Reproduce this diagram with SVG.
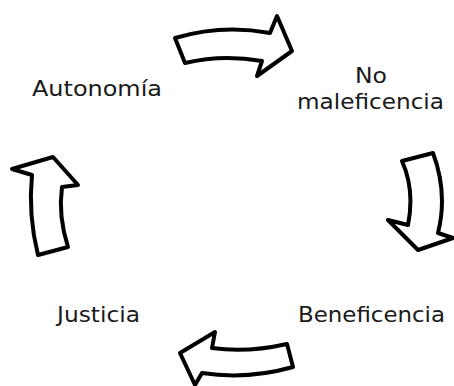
<svg xmlns="http://www.w3.org/2000/svg" width="454" height="386" viewBox="0 0 454 386">
  <style>
    .arrow { fill: #ffffff; stroke: #000000; stroke-width: 4; stroke-linejoin: round; }
    .label { font-family: "DejaVu Sans", Verdana, sans-serif; font-size: 21px; fill: #1a1a1a; }
  </style>
  <rect width="454" height="386" fill="#ffffff"/>

  <!-- principle labels -->
  <g id="autonomia">
    <text class="label" x="32" y="96" textLength="130" lengthAdjust="spacingAndGlyphs">Autonomía</text>
  </g>
  <g id="no-maleficencia">
    <text class="label" x="355" y="83" textLength="32" lengthAdjust="spacingAndGlyphs">No</text>
    <text class="label" x="297" y="109" textLength="147" lengthAdjust="spacingAndGlyphs">maleficencia</text>
  </g>
  <g id="beneficencia">
    <text class="label" x="298" y="322" textLength="147" lengthAdjust="spacingAndGlyphs">Beneficencia</text>
  </g>
  <g id="justicia">
    <text class="label" x="57" y="322" textLength="83" lengthAdjust="spacingAndGlyphs">Justicia</text>
  </g>

  <!-- curved block arrows forming the cycle -->
  <g id="connectors">
    <path class="arrow" d="M175,38 Q222,24 270,33 L277,16 L292,51 L257,76 L262,61 Q222,54 185,63 Z"/>
    <path class="arrow" d="M402,161 L433,153 Q448,193 438,233 L453,238 L418,250 L388,220 L408,225 Q415,190 402,161 Z"/>
    <path class="arrow" d="M287,344 L293,367 Q247,380 202,373 L195,385 L180,353 L215,332 L212,348 Q247,353 287,344 Z"/>
    <path class="arrow" d="M38,255 L68,247 Q58,216 62,187 L78,185 L53,157 L12,169 L32,175 Q28,215 38,255 Z"/>
  </g>
</svg>
